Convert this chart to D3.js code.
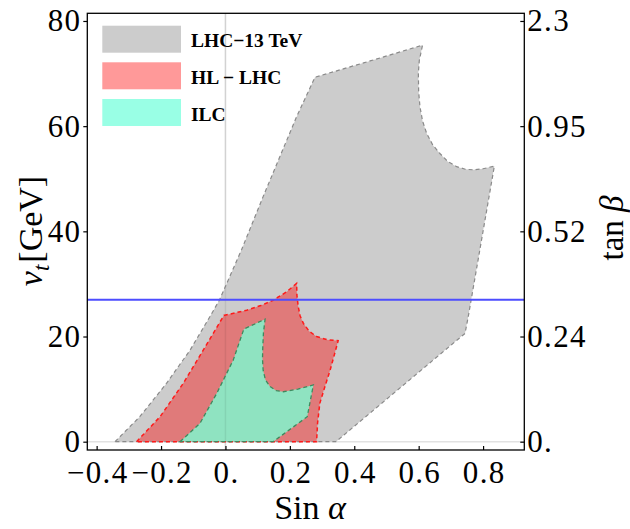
<!DOCTYPE html>
<html><head><meta charset="utf-8">
<script src="https://cdn.jsdelivr.net/npm/d3@7"></script>
<style>
html,body{margin:0;padding:0;background:#fff;}
svg{display:block;}
text{font-family:"Liberation Serif","Times New Roman",serif;}
</style></head>
<body>
<svg id="chart" width="630" height="529"></svg>
<script>
// ---- data ----
const xTicks = [-0.4, -0.2, 0, 0.2, 0.4, 0.6, 0.8];
const xTickLabels = ["\u22120.4", "\u22120.2", "0.", "0.2", "0.4", "0.6", "0.8"];
const yTicks = [0, 20, 40, 60, 80];
const yTickLabels = ["0", "20", "40", "60", "80"];
const tanBetaLabels = ["0.", "0.24", "0.52", "0.95", "2.3"];
const legendLabels = ["LHC\u221213 TeV", "HL \u2212 LHC", "ILC"];
const blueLineVt = 27;

const lhc13 = [
  [-0.343, 0], [-0.266, 4.75], [-0.183, 11.1], [-0.110, 17.4], [-0.048, 23.8],
  [-0.019, 26.9], [0.004, 30.1], [0.050, 36.5], [0.117, 46.6], [0.221, 61.8],
  [0.278, 69.3], [0.449, 72.4], [0.612, 75.4], [0.602, 72.5], [0.599, 70.1],
  [0.600, 66.5], [0.604, 63.7], [0.612, 61.0], [0.625, 58.6], [0.644, 56.4],
  [0.666, 54.8], [0.690, 53.3], [0.718, 52.3], [0.745, 51.8], [0.770, 51.7],
  [0.800, 51.9], [0.835, 52.4], [0.754, 23.8], [0.744, 20.6], [0.343, 0]
];
const hlLhc = [
  [-0.276, 0], [-0.203, 4.75], [-0.131, 11.1], [-0.069, 17.4], [-0.005, 24.0],
  [0.066, 25.0], [0.110, 25.9], [0.148, 26.9], [0.190, 28.5], [0.221, 30.1],
  [0.222, 27.8], [0.226, 25.7], [0.232, 23.9], [0.242, 22.5], [0.260, 21.0],
  [0.283, 20.0], [0.315, 19.4], [0.350, 19.2], [0.338, 16.5], [0.325, 13.6],
  [0.308, 10.3], [0.293, 7.3], [0.286, 3.5], [0.283, 0]
];
const ilc = [
  [-0.141, 0], [-0.079, 3.5], [-0.027, 9.2], [0.024, 15.5], [0.057, 21.4],
  [0.123, 23.3], [0.118, 20.7], [0.116, 18.1], [0.115, 15.8], [0.117, 13.6],
  [0.124, 11.8], [0.138, 10.5], [0.158, 9.7], [0.180, 9.5], [0.225, 10.0],
  [0.273, 10.8], [0.254, 4.75], [0.148, 0]
];

// ---- layout ----
const svg = d3.select("#chart");
const L = 87.3, R = 524.3, T = 13.3, B = 450;
const x = d3.scaleLinear().domain([-0.429, 0.928]).range([L, R]);
const y = d3.scaleLinear().domain([-1.58, 81.46]).range([B, T]);

svg.append("defs").append("clipPath").attr("id", "clip")
  .append("rect").attr("x", L).attr("y", T).attr("width", R - L).attr("height", B - T);

const plot = svg.append("g").attr("clip-path", "url(#clip)");

plot.append("line").attr("x1", x(0)).attr("x2", x(0)).attr("y1", T).attr("y2", B)
  .attr("stroke", "#e2e2e2").attr("stroke-width", 1.5);
plot.append("line").attr("x1", L).attr("x2", R).attr("y1", y(0)).attr("y2", y(0))
  .attr("stroke", "#e2e2e2").attr("stroke-width", 1.5);

const line = d3.line().x(d => x(d[0])).y(d => y(d[1])).curve(d3.curveLinearClosed);

const regions = [
  {data: lhc13, fill: "#cccccc", stroke: "#8a8a8a", sw: 1.2},
  {data: hlLhc, fill: "rgba(255,0,0,0.4)", stroke: "#ff1a1a", sw: 1.5},
  {data: ilc, fill: "#8fe3c1", stroke: "#3e8a5e", sw: 1.3}
];
regions.forEach(r => {
  plot.append("path").attr("d", line(r.data)).attr("fill", r.fill).attr("stroke", "none");
});
plot.append("line").attr("x1", x(0)).attr("x2", x(0)).attr("y1", T).attr("y2", B)
  .attr("stroke", "rgba(0,0,0,0.07)").attr("stroke-width", 1.5);
regions.forEach(r => {
  plot.append("path").attr("d", line(r.data)).attr("fill", "none")
    .attr("stroke", r.stroke).attr("stroke-width", r.sw).attr("stroke-dasharray", "4,3");
});

plot.append("line").attr("x1", L).attr("x2", R).attr("y1", y(blueLineVt)).attr("y2", y(blueLineVt))
  .attr("stroke", "#4d4dff").attr("stroke-width", 2);

svg.append("rect").attr("x", L).attr("y", T).attr("width", R - L).attr("height", B - T)
  .attr("fill", "none").attr("stroke", "#000").attr("stroke-width", 1.3);

const fs = 31;
const gl = svg.append("g").attr("transform", `translate(${L},0)`)
  .call(d3.axisLeft(y).tickValues(yTicks).tickSize(4).tickPadding(2)
    .tickFormat((d, i) => yTickLabels[i]));
const gr = svg.append("g").attr("transform", `translate(${R},0)`)
  .call(d3.axisRight(y).tickValues(yTicks).tickSize(-4).tickPadding(3)
    .tickFormat((d, i) => tanBetaLabels[i]));
const gb = svg.append("g").attr("transform", `translate(0,${B})`)
  .call(d3.axisBottom(x).tickValues(xTicks).tickSize(-4).tickPadding(11)
    .tickFormat((d, i) => xTickLabels[i]));
[gl, gr, gb].forEach(g => {
  g.select(".domain").remove();
  g.selectAll(".tick line").attr("stroke", "#000").attr("stroke-width", 1.2);
  g.selectAll(".tick text").attr("fill", "#000")
    .style("font-family", '"Liberation Serif", serif').style("font-size", fs + "px")
    .style("letter-spacing", "1.3px");
});
gb.selectAll(".tick text").attr("dx", "0.6px");

const xt = svg.append("text").attr("x", 310).attr("y", 519).attr("text-anchor", "middle")
  .style("font-size", "34px");
xt.append("tspan").text("Sin ");
xt.append("tspan").attr("font-style", "italic").text("\u03b1");

const yt = svg.append("text").attr("transform", "translate(42,231) rotate(-90)")
  .attr("text-anchor", "middle").style("font-size", "34px");
yt.append("tspan").attr("font-style", "italic").text("v");
yt.append("tspan").attr("font-style", "italic").attr("font-size", "23px").attr("dy", 7).text("t");
yt.append("tspan").attr("dy", -7).attr("dx", 2).text("[GeV]");

const rt = svg.append("text").attr("transform", "translate(623,228) rotate(-90)")
  .attr("text-anchor", "middle").style("font-size", "33px");
rt.append("tspan").text("tan ");
rt.append("tspan").attr("font-style", "italic").text("\u03b2");

const legendColors = ["#cccccc", "#ff9999", "#99ffe5"];
const legY = [25.7, 62.3, 99];
legendLabels.forEach((lab, i) => {
  svg.append("rect").attr("x", 102.3).attr("y", legY[i]).attr("width", 78.7).attr("height", 27)
    .attr("fill", legendColors[i]);
  svg.append("text").attr("x", 191).attr("y", legY[i] + 21.5)
    .style("font-size", "19.5px").style("font-weight", "bold").text(lab);
});
</script>
</body></html>
